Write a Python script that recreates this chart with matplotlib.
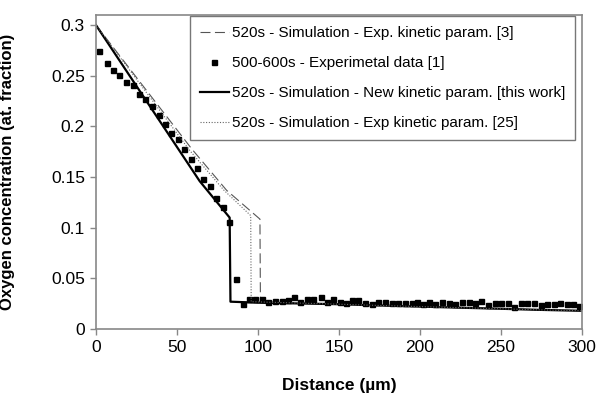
import numpy as np
import matplotlib
matplotlib.use('Agg')
from matplotlib import pyplot as plt

plt.rcParams['font.family'] = ['Liberation Sans', 'DejaVu Sans']

# experimental data [1] (distance um, oxygen at. fraction)
exp_x = [2.0, 6.6, 10.7, 14.4, 18.3, 22.6, 26.3, 30.4, 34.6, 38.7, 42.4, 46.5,
         50.6, 54.5, 58.6, 62.5, 66.3, 70.4, 74.1, 78.2, 82.3, 86.4, 90.5, 94.6,
         98.2, 102.3, 106.4, 110.5, 114.6, 118.7, 122.2, 126.0, 130.1, 134.2,
         138.7, 142.4, 146.5, 150.6, 154.1, 157.8, 162.0, 166.1, 170.2, 174.3,
         178.4, 182.5, 186.6, 190.8, 194.9, 198.0, 201.7, 205.8, 209.5, 213.6,
         217.7, 221.9, 226.0, 230.1, 234.2, 237.9, 242.0, 246.1, 250.3, 254.4,
         258.1, 262.2, 266.3, 270.4, 274.5, 278.7, 282.8, 286.5, 290.6, 294.7,
         298.4]
exp_y = [0.274, 0.263, 0.2555, 0.251, 0.244, 0.2407, 0.2316, 0.227, 0.2197,
         0.211, 0.2023, 0.194, 0.188, 0.178, 0.1675, 0.1586, 0.1477, 0.141,
         0.129, 0.120, 0.106, 0.049, 0.0244, 0.0296,
         0.0293, 0.0293, 0.0270, 0.0276, 0.0276, 0.0286, 0.0313, 0.0270,
         0.0296, 0.0293, 0.0313, 0.0270, 0.0293, 0.0263, 0.0253, 0.0286,
         0.0286, 0.0253, 0.0247, 0.0263, 0.0263, 0.0253, 0.0253, 0.0253,
         0.0253, 0.0263, 0.0247, 0.0263, 0.0247, 0.0263, 0.0253, 0.0247,
         0.0263, 0.0263, 0.0253, 0.0280, 0.0237, 0.0260, 0.0260, 0.0260,
         0.0220, 0.0260, 0.0253, 0.0253, 0.0237, 0.0247, 0.0247, 0.0260,
         0.0247, 0.0247, 0.0227]

# simulation - new kinetic param. [this work]
new_x = [0, 64, 82.5, 83, 100, 150, 170, 210, 250, 272, 300]
new_y = [0.3, 0.146, 0.11, 0.027, 0.026, 0.0245, 0.0235, 0.0217,
         0.020, 0.019, 0.018]

# simulation - exp. kinetic param. [3]
ref3_x = [0, 59, 80.6, 101.2, 101.5, 150, 170, 210, 250, 272, 300]
ref3_y = [0.3, 0.178, 0.137, 0.1085, 0.027, 0.0245, 0.0235, 0.0217, 0.020,
          0.019, 0.018]

# simulation - exp kinetic param. [25]
ref25_x = [0, 58, 79, 95.5, 95.8, 150, 170, 210, 250, 272, 300]
ref25_y = [0.3, 0.176, 0.137, 0.112, 0.027, 0.0245, 0.0235, 0.0217, 0.020,
           0.019, 0.018]

y_ticks = [0, 0.05, 0.1, 0.15, 0.2, 0.25, 0.3]
y_tick_labels = ['0', '0.05', '0.1', '0.15', '0.2', '0.25', '0.3']
x_ticks = [0, 50, 100, 150, 200, 250, 300]

fig = plt.figure(figsize=(6, 3.95), dpi=100)
ax = fig.add_axes([0.16, 0.167, 0.81, 0.795])

ax.plot(ref3_x, ref3_y, color='#555555', lw=0.8, dashes=(9, 4),
        label='520s - Simulation - Exp. kinetic param. [3]')
ax.plot(exp_x, exp_y, 's', color='black', ms=3.6, ls='none',
        label='500-600s - Experimetal data [1]')
ax.plot(new_x, new_y, color='black', lw=1.6,
        label='520s - Simulation - New kinetic param. [this work]')
ax.plot(ref25_x, ref25_y, color='#666666', lw=0.8, ls=(0, (1, 1.5)),
        label='520s - Simulation - Exp kinetic param. [25]')

ax.set_xlim(0, 300)
ax.set_ylim(0, 0.31)
ax.set_xticks(x_ticks)
ax.set_yticks(y_ticks)
ax.set_yticklabels(y_tick_labels)
ax.tick_params(labelsize=12.5, color='#888888', length=4, width=1, direction='out', pad=4)

for s in ax.spines.values():
    s.set_color('#888888')
    s.set_linewidth(1.2)

ax.set_xlabel('Distance (\u00b5m)', fontsize=12.5, fontweight='bold')
ax.set_ylabel('Oxygen concentration (at. fraction)', fontsize=12, fontweight='bold')
ax.xaxis.set_label_coords(0.5, -0.155)
ax.yaxis.set_label_coords(-0.167, 0.5)

leg = ax.legend(loc='upper right', bbox_to_anchor=(575 / 600, (395 - 16) / 395),
                bbox_transform=fig.transFigure, fontsize=11, frameon=True,
                fancybox=False, framealpha=1, edgecolor='#777777',
                handlelength=1.9, handletextpad=0.2, labelspacing=1.05,
                borderpad=0.65, borderaxespad=0)
leg.get_frame().set_linewidth(1.0)

plt.savefig('out.png', dpi=100)
